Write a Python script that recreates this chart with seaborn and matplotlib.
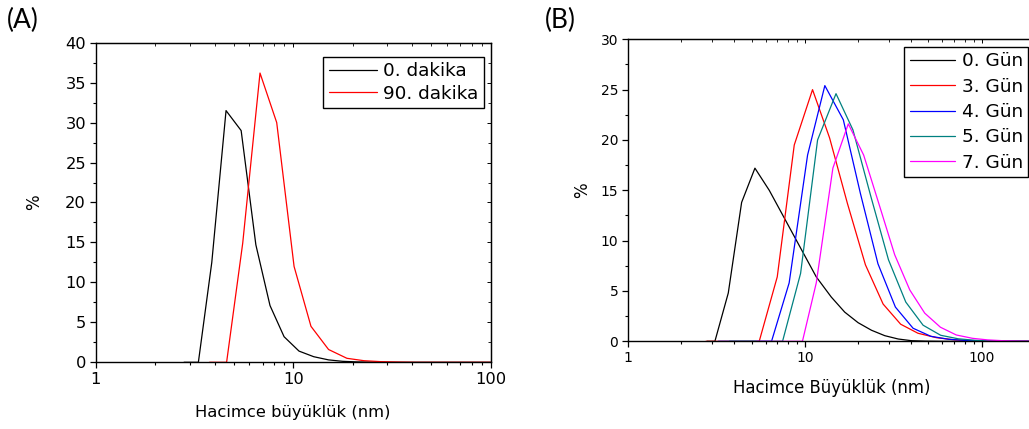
import numpy as np
import pandas as pd
import seaborn as sns
import matplotlib.pyplot as plt
from matplotlib.ticker import MultipleLocator, NullFormatter, FuncFormatter, LogLocator

# Panel A: volume size distribution, 0 and 90 minutes
a_x_0 = [2.80, 3.31, 3.87, 4.57, 5.45, 6.47, 7.63, 8.99, 10.7, 12.7, 15.1, 17.8, 21.0, 25.0, 30.0, 100.0]
a_y_0 = [0, 0, 12.5, 31.5, 29.0, 14.7, 7.1, 3.2, 1.4, 0.7, 0.3, 0.12, 0.05, 0.02, 0, 0]
a_x_90 = [3.77, 4.60, 5.55, 6.79, 8.25, 10.1, 12.3, 15.1, 18.7, 22.8, 27.8, 34.0, 41.0, 100.0]
a_y_90 = [0, 0, 14.9, 36.2, 30.0, 12.0, 4.5, 1.6, 0.5, 0.2, 0.08, 0.03, 0, 0]
a_names = ["0. dakika", "90. dakika"]
a_colors = ["black", "red"]

# Panel B: volume size distribution over days
b_x_0 = [2.80, 3.10, 3.69, 4.39, 5.22, 6.29, 11.6, 14.1, 16.8, 20.0, 23.8, 28.3, 33.7, 40.1, 48.0, 60.0, 200.0]
b_y_0 = [0, 0, 4.8, 13.8, 17.2, 15.0, 6.4, 4.4, 2.9, 1.85, 1.1, 0.56, 0.23, 0.06, 0.02, 0, 0]
b_x_3 = [2.76, 3.48, 4.38, 5.52, 6.98, 8.71, 11.05, 13.8, 17.4, 22.0, 27.7, 34.8, 43.6, 55.5, 70.0, 88.0, 110.0, 140.0, 200.0]
b_y_3 = [0, 0, 0, 0, 6.4, 19.5, 25.0, 20.2, 13.7, 7.6, 3.7, 1.7, 0.8, 0.36, 0.15, 0.06, 0.02, 0, 0]
b_x_4 = [3.24, 4.08, 5.14, 6.48, 8.15, 10.36, 12.97, 16.5, 20.6, 25.9, 32.5, 40.9, 51.5, 65.0, 82.0, 103.0, 130.0, 200.0]
b_y_4 = [0, 0, 0, 0, 5.8, 18.5, 25.4, 22.0, 14.7, 7.7, 3.4, 1.3, 0.5, 0.2, 0.08, 0.03, 0.01, 0]
b_x_5 = [3.74, 4.71, 5.94, 7.48, 9.46, 11.8, 15.0, 18.7, 23.6, 29.7, 37.2, 46.6, 58.6, 73.6, 92.0, 116.0, 146.0, 200.0]
b_y_5 = [0, 0, 0, 0, 6.75, 20.0, 24.6, 21.0, 14.4, 8.1, 3.9, 1.6, 0.6, 0.25, 0.1, 0.04, 0.01, 0]
b_x_7 = [5.34, 6.51, 7.94, 9.69, 11.6, 14.4, 17.6, 21.5, 26.5, 32.2, 39.2, 47.6, 58.4, 71.8, 88.5, 108.0, 132.0, 161.0, 200.0]
b_y_7 = [0, 0, 0, 0, 5.8, 17.2, 21.6, 18.5, 13.4, 8.6, 5.1, 2.8, 1.4, 0.63, 0.3, 0.14, 0.06, 0.02, 0]
b_names = ["0. Gün", "3. Gün", "4. Gün", "5. Gün", "7. Gün"]
b_colors = ["black", "red", "blue", "#008080", "magenta"]

sns.set_style("ticks")
plt.rcParams['font.family'] = ['DejaVu Sans']
plt.rcParams['text.color'] = 'black'
plt.rcParams['axes.labelcolor'] = 'black'
plt.rcParams['xtick.color'] = 'black'
plt.rcParams['ytick.color'] = 'black'

df_a = pd.concat([
    pd.DataFrame({"size": a_x_0, "pct": a_y_0, "seri": a_names[0]}),
    pd.DataFrame({"size": a_x_90, "pct": a_y_90, "seri": a_names[1]}),
])
df_b = pd.concat([
    pd.DataFrame({"size": x, "pct": y, "seri": n})
    for x, y, n in zip([b_x_0, b_x_3, b_x_4, b_x_5, b_x_7],
                       [b_y_0, b_y_3, b_y_4, b_y_5, b_y_7], b_names)
])

fig = plt.figure(figsize=(10.29, 4.29), dpi=100)
axA = fig.add_axes([0.0930, 0.1555, 0.3839, 0.745])
axB = fig.add_axes([0.6103, 0.2044, 0.3955, 0.704])


def style_axis(ax, ymax, tick_fs):
    ax.set_xscale("log")
    ax.yaxis.set_major_locator(MultipleLocator(5))
    ax.yaxis.set_minor_locator(MultipleLocator(2.5))
    ax.xaxis.set_major_locator(LogLocator(base=10))
    ax.xaxis.set_minor_locator(LogLocator(base=10, subs=np.arange(2, 10)))
    ax.xaxis.set_major_formatter(FuncFormatter(lambda v, p: f"{v:g}"))
    ax.xaxis.set_minor_formatter(NullFormatter())
    ax.set_ylim(0, ymax)
    ax.tick_params(which="major", direction="out", length=4, width=0.9,
                   labelsize=tick_fs, pad=3, top=False, right=False)
    ax.tick_params(which="minor", direction="out", length=2.2, width=0.8,
                   top=False, right=False)
    for s in ax.spines.values():
        s.set_linewidth(1.0)
        s.set_color("black")
    top = ax.secondary_xaxis("top")
    top.tick_params(which="major", direction="in", length=3, width=0.7, labeltop=False)
    top.tick_params(which="minor", direction="in", length=2, width=0.6)
    top.xaxis.set_major_formatter(NullFormatter())
    top.xaxis.set_minor_formatter(NullFormatter())
    return top


# Panel A
sns.lineplot(data=df_a, x="size", y="pct", hue="seri", palette=a_colors,
             estimator=None, sort=False, lw=0.9, ax=axA)
style_axis(axA, 40, 11.7)
axA.set_xlim(1, 100)
right = axA.secondary_yaxis("right")
right.yaxis.set_major_locator(MultipleLocator(5))
right.yaxis.set_minor_locator(MultipleLocator(2.5))
right.tick_params(which="major", direction="in", length=3, width=0.7, labelright=False)
right.tick_params(which="minor", direction="in", length=2, width=0.6)
axA.set_xlabel("Hacimce büyüklük (nm)", fontsize=11.8, labelpad=13)
axA.set_ylabel("%", fontsize=12, labelpad=16)
h, l = axA.get_legend_handles_labels()
legA = axA.legend(h, l, loc="upper right", bbox_to_anchor=(0.983, 0.956),
                  borderaxespad=0, fancybox=False, edgecolor="black", framealpha=1,
                  fontsize=13.3, handlelength=2.6, handletextpad=0.35,
                  labelspacing=0.25, borderpad=0.3)
legA.get_frame().set_linewidth(1.0)

# Panel B
sns.lineplot(data=df_b, x="size", y="pct", hue="seri", palette=b_colors,
             estimator=None, sort=False, lw=0.9, ax=axB)
style_axis(axB, 30, 10)
axB.set_xlim(1, 200)
axB.set_xlabel("Hacimce Büyüklük (nm)", fontsize=11.9, labelpad=10)
axB.set_ylabel("%", fontsize=12, labelpad=7)
h, l = axB.get_legend_handles_labels()
legB = axB.legend(h, l, loc="upper right", bbox_to_anchor=(0.984, 0.9755),
                  borderaxespad=0, fancybox=False, edgecolor="black", framealpha=1,
                  fontsize=13.3, handlelength=2.45, handletextpad=0.35,
                  labelspacing=0.4, borderpad=0.3)
legB.get_frame().set_linewidth(1.0)

fig.text(7 / 1029, 1 - 8 / 429, "(A)", fontsize=19, family="Lato", va="top")
fig.text(545 / 1029, 1 - 8 / 429, "(B)", fontsize=19, family="Lato", va="top")

plt.savefig("out.png", dpi=100)
